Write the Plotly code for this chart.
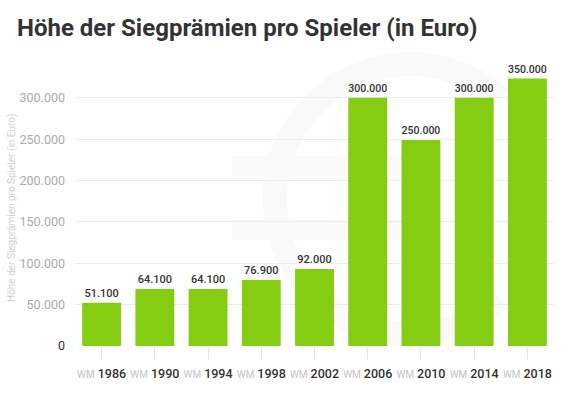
import numpy as np
import plotly.graph_objects as go

years = ["1986", "1990", "1994", "1998", "2002", "2006", "2010", "2014", "2018"]
bar_heights = [52400, 69000, 69000, 79800, 93200, 300000, 249000, 300000, 323500]
value_labels = ["51.100", "64.100", "64.100", "76.900", "92.000", "300.000", "250.000", "300.000", "350.000"]
y_tickvals = [0, 50000, 100000, 150000, 200000, 250000, 300000]
y_ticktext = ["<span style='color:#333'>0</span>", "50.000", "100.000", "150.000", "200.000", "250.000", "300.000"]

title_text = "Höhe der Siegprämien pro Spieler (in Euro)"
ytitle_text = "Höhe der Siegprämien pro Spieler (in Euro)"

W, H = 574, 396
ML, MR, MT, MB = 75, 20, 73, 50
pw = W - ML - MR
ph = H - MT - MB


def px2paper(x, y):
    return (x - ML) / pw, (H - MB - y) / ph


x_ticktext = ["<span style='color:#c4c4c4;font-size:10px'>WM</span> "
              "<span style='color:#333;font-size:12.5px;font-weight:500'>" + y + "</span>" for y in years]

fig = go.Figure()
fig.add_trace(go.Bar(
    x=years, y=bar_heights,
    text=value_labels, textposition="outside",
    textfont=dict(family="Roboto", size=11, color="#333333", weight=500),
    marker=dict(color="#84cd12", line=dict(width=0)),
    cliponaxis=False,
    hoverinfo="skip",
))

# faint euro-sign watermark
shapes = []
cx, cy, r = 410, 199, 135
angles = np.linspace(np.deg2rad(48), np.deg2rad(312), 80)
pts = [px2paper(cx + r * np.cos(a), cy - r * np.sin(a)) for a in angles]
path = "M " + " L ".join(f"{p[0]:.4f},{p[1]:.4f}" for p in pts)
shapes.append(dict(type="path", path=path, xref="paper", yref="paper",
                   line=dict(color="#f9f9f9", width=24), layer="below"))
for yy in (166, 230):
    x0, y0 = px2paper(232, yy)
    x1, _ = px2paper(410, yy)
    shapes.append(dict(type="line", x0=x0, x1=x1, y0=y0, y1=y0, xref="paper", yref="paper",
                       line=dict(color="#f9f9f9", width=20), layer="below"))

ax, ay = px2paper(12, 208)

fig.update_layout(
    width=W, height=H,
    margin=dict(l=ML, r=MR, t=MT, b=MB),
    paper_bgcolor="white", plot_bgcolor="rgba(0,0,0,0)",
    font=dict(family="Roboto", color="#333333"),
    showlegend=False,
    bargap=0.27,
    title=dict(text=title_text, x=17 / W, xanchor="left", xref="container",
               y=1 - 28 / H, yanchor="middle", yref="container",
               font=dict(family="Roboto", size=24, color="#333333", weight="bold")),
    shapes=shapes,
    annotations=[dict(text=ytitle_text, xref="paper", yref="paper", x=ax, y=ay,
                      textangle=-90, showarrow=False, xanchor="center", yanchor="middle",
                      font=dict(family="Roboto", size=10, color="#cfcfcf"))],
)
fig.update_xaxes(
    type="category", tickvals=years, ticktext=x_ticktext,
    ticks="outside", ticklen=13, tickcolor="#e6e6e6", tickwidth=1,
    showline=False, showgrid=False, ticklabelstandoff=4,
    tickfont=dict(family="Roboto", size=12, color="#333333"),
)
fig.update_yaxes(
    range=[0, 330000], tickvals=y_tickvals, ticktext=y_ticktext,
    showgrid=True, gridcolor="#ececec", gridwidth=1, zeroline=False,
    showline=False, ticks="", ticklabelstandoff=9,
    tickfont=dict(family="Roboto", size=12.5, color="#ababab"),
)

fig.write_html("out.html", config={"displayModeBar": False},
               post_script="document.body.style.margin='0';")
